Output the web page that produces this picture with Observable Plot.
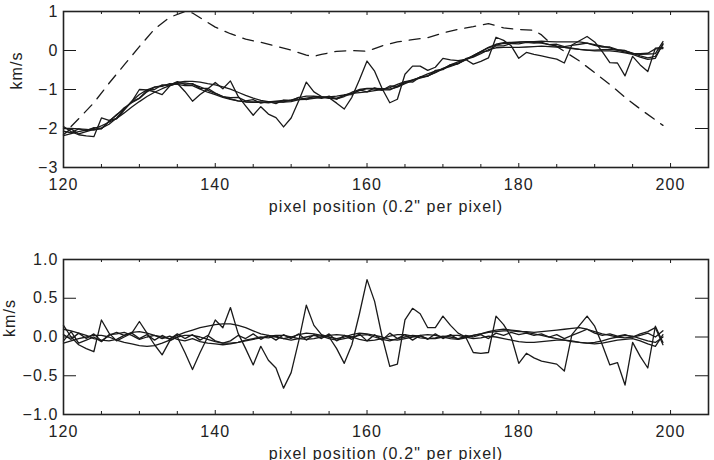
<!DOCTYPE html>
<html>
<head>
<meta charset="utf-8">
<script src="https://cdn.jsdelivr.net/npm/d3@7"></script>
<script src="https://cdn.jsdelivr.net/npm/@observablehq/plot@0.6"></script>
<style>
  body { margin: 0; background: #fff; }
  #chart svg { display: block; }
</style>
</head>
<body>
<div id="chart"></div>
<script>
// Slit pixel index along the x axis
const pixel = [
  120,121,122,123,124,125,126,127,128,129,130,131,132,133,134,135,136,137,138,139,
  140,141,142,143,144,145,146,147,148,149,150,151,152,153,154,155,156,157,158,159,
  160,161,162,163,164,165,166,167,168,169,170,171,172,173,174,175,176,177,178,179,
  180,181,182,183,184,185,186,187,188,189,190,191,192,193,194,195,196,197,198,199
];

// Smooth velocity model (km/s) shared by all profiles
const fit = [
  -2.10,-2.08,-2.06,-2.04,-2.02,-1.95,-1.84,-1.70,-1.53,-1.36,
  -1.20,-1.06,-0.96,-0.90,-0.86,-0.84,-0.85,-0.88,-0.93,-0.99,
  -1.04,-1.10,-1.16,-1.22,-1.27,-1.30,-1.32,-1.33,-1.32,-1.30,
  -1.27,-1.24,-1.22,-1.21,-1.21,-1.21,-1.20,-1.16,-1.10,-1.05,
  -1.01,-0.99,-0.98,-0.96,-0.90,-0.83,-0.77,-0.70,-0.63,-0.55,
  -0.47,-0.39,-0.31,-0.23,-0.15,-0.07, 0.01, 0.07, 0.10, 0.12,
   0.14, 0.16, 0.17, 0.17, 0.15, 0.13, 0.12, 0.11, 0.10, 0.09,
   0.08, 0.07, 0.05, 0.01,-0.03,-0.08,-0.12,-0.14,-0.08, 0.15
];

// Residuals (km/s) of each measured profile about the model
const resA = [
   0.15, 0.00,-0.10,-0.15,-0.19, 0.22, 0.05,-0.05, 0.00, 0.05,
   0.20, 0.05,-0.10,-0.23,-0.05, 0.00,-0.20,-0.42,-0.20, 0.00,
   0.22, 0.12, 0.38, 0.05,-0.15,-0.36,-0.12,-0.30,-0.40,-0.66,
  -0.46,-0.05, 0.41, 0.15, 0.03, 0.00,-0.15,-0.34,-0.10, 0.30,
   0.74, 0.46, 0.00,-0.38,-0.35, 0.22, 0.37, 0.30, 0.12, 0.12,
   0.27, 0.15, 0.05, 0.00,-0.20,-0.21,-0.20, 0.27, 0.16, 0.00,
  -0.34,-0.21,-0.27,-0.31,-0.33,-0.35,-0.44, 0.03, 0.15, 0.27,
   0.14,-0.10,-0.36,-0.33,-0.62,-0.07,-0.25,-0.40, 0.14,-0.07
];
const resB = [
   0.10, 0.08, 0.05, 0.02,-0.02,-0.04,-0.05,-0.03, 0.02, 0.06,
   0.07, 0.05, 0.02, 0.00,-0.02, 0.02, 0.06, 0.09, 0.12, 0.14,
   0.16, 0.17, 0.17, 0.15, 0.12, 0.08, 0.04, 0.02, 0.00,-0.02,
   0.00, 0.03, 0.05, 0.04, 0.02, 0.00,-0.02, 0.00, 0.03, 0.05,
   0.04, 0.02, 0.00,-0.03,-0.04,-0.02, 0.00, 0.02, 0.03, 0.02,
   0.00,-0.02,-0.03,-0.01, 0.02, 0.04, 0.06, 0.07, 0.08, 0.08,
   0.07, 0.07, 0.06, 0.07, 0.08, 0.09, 0.10, 0.11, 0.12, 0.10,
   0.07, 0.04, 0.02, 0.00,-0.01, 0.00, 0.02, 0.05, 0.00, 0.08
];
const resC = [
  -0.08,-0.05,-0.02, 0.00, 0.02, 0.02, 0.00,-0.04,-0.07,-0.09,
  -0.11,-0.12,-0.11,-0.08,-0.04, 0.00, 0.02, 0.02, 0.00,-0.03,
  -0.06,-0.08,-0.08,-0.07,-0.05,-0.03,-0.01, 0.01, 0.02, 0.02,
   0.00,-0.02,-0.03,-0.02, 0.00, 0.02, 0.03, 0.02, 0.00,-0.03,
  -0.05,-0.04,-0.02, 0.01, 0.03, 0.03, 0.01,-0.01,-0.02,-0.02,
   0.00, 0.02, 0.02, 0.00,-0.02,-0.01, 0.01, 0.00,-0.02,-0.04,
  -0.06,-0.07,-0.07,-0.06,-0.05,-0.04,-0.04,-0.05,-0.07,-0.08,
  -0.07,-0.05,-0.02, 0.00, 0.02, 0.01,-0.02,-0.05,-0.07, 0.00
];
const resD = [
   0.03,-0.03, 0.05,-0.02, 0.04,-0.05, 0.02, 0.06, 0.02, 0.05,
  -0.02, 0.03,-0.04, 0.02,-0.03, 0.04,-0.02, 0.03,-0.04, 0.02,
  -0.05,-0.08,-0.05, 0.02,-0.02, 0.04,-0.03, 0.02,-0.04, 0.03,
  -0.02, 0.04,-0.04, 0.03,-0.02, 0.04,-0.05, 0.02,-0.03, 0.04,
  -0.05, 0.03,-0.04, 0.05,-0.02, 0.03,-0.04, 0.02,-0.03, 0.04,
  -0.02, 0.03,-0.03, 0.02, 0.00, 0.03,-0.02, 0.05, 0.02, 0.06,
   0.03, 0.05, 0.02, 0.04, 0.00, 0.03,-0.02, 0.02, 0.06, 0.10,
   0.05, 0.02, 0.04, 0.01, 0.03, 0.00, 0.04, 0.07, 0.12,-0.10
];
const resE = [
  -0.05, 0.07,-0.08,-0.04, 0.00,-0.06, 0.03, 0.04, 0.06, 0.02,
  -0.03, 0.00, 0.02,-0.02, 0.01,-0.03,-0.05,-0.02,-0.06,-0.08,
  -0.09,-0.10,-0.09,-0.07,-0.04,-0.02, 0.00,-0.01, 0.01,-0.02,
  -0.04,-0.02, 0.00, 0.02, 0.01,-0.02,-0.04,-0.02, 0.00, 0.02,
   0.03, 0.00,-0.03,-0.05,-0.02, 0.00, 0.02, 0.01,-0.02,-0.01,
   0.01, 0.00,-0.02, 0.00, 0.02, 0.04, 0.07, 0.09, 0.10, 0.09,
   0.08, 0.06, 0.04, 0.02, 0.00,-0.02,-0.04,-0.06,-0.07,-0.08,
  -0.09,-0.08,-0.06,-0.04,-0.03,-0.02,-0.05,-0.09,-0.12, 0.03
];

// Reference (dashed) velocity curve
const refPixel = [121,122,124,126,128,130,132,134,136,137,138,140,142,144,146,148,150,152,153,154,
                  156,158,160,162,164,166,168,170,172,174,176,178,180,182,183,184,186,188,190,192,194,196,198,199];
const refVel   = [-1.95,-1.75,-1.34,-0.84,-0.37,0.10,0.55,0.85,1.00,0.96,0.84,0.60,0.43,0.29,0.21,0.11,0.01,-0.12,-0.15,-0.10,
                  -0.02,0.00,-0.02,0.12,0.22,0.28,0.33,0.45,0.54,0.61,0.69,0.58,0.54,0.52,0.40,0.22,-0.02,-0.27,-0.57,-0.87,-1.20,-1.50,-1.78,-1.92];

// Axis ticks and labels
const xMajor = [120, 140, 160, 180, 200];
const xMinor = [125, 130, 135, 145, 150, 155, 165, 170, 175, 185, 190, 195];
const topYTicks = [-3, -2, -1, 0, 1];
const botYTicks = [-1, -0.5, 0, 0.5, 1];
const xLabel = "pixel position (0.2\" per pixel)";
const yLabel = "km/s";

const residuals = [resA, resB, resC, resD, resE];
// each measured profile = model + its residual
const profileRows = residuals.flatMap((res, k) =>
  pixel.map((p, i) => ({p, v: fit[i] + res[i], k})));
const residualRows = residuals.flatMap((res, k) =>
  pixel.map((p, i) => ({p, v: res[i], k})));
const refRows = refPixel.map((p, i) => ({p, v: refVel[i]}));

const W = 714, ML = 63, MR = 6;
const frameW = W - ML - MR;
const ink = "#1a1a1a";
const textStyle = {
  fontFamily: "'Liberation Sans', Arial, sans-serif",
  fontSize: "16px",
  letterSpacing: "1.1px",
  color: "#222",
  background: "#fff"
};

function panel({height, marginTop, marginBottom, yDomain, yTicks, yFormat, lines, labelDx}) {
  const frameH = height - marginTop - marginBottom;
  return Plot.plot({
    width: W, height, marginLeft: ML, marginRight: MR, marginTop, marginBottom,
    style: textStyle,
    x: {domain: [120, 205]},
    y: {domain: yDomain},
    marks: [
      ...lines,
      // inward ticks on all four sides
      Plot.ruleX(xMajor, {x: d => d, insetTop: frameH - 4, stroke: ink}),
      Plot.ruleX(xMajor, {x: d => d, insetBottom: frameH - 4, stroke: ink}),
      Plot.ruleX(xMinor, {x: d => d, insetTop: frameH - 3, stroke: ink}),
      Plot.ruleX(xMinor, {x: d => d, insetBottom: frameH - 3, stroke: ink}),
      Plot.ruleY(yTicks, {y: d => d, insetRight: frameW - 13, stroke: ink}),
      Plot.ruleY(yTicks, {y: d => d, insetLeft: frameW - 13, stroke: ink}),
      Plot.frame({stroke: "#222", strokeWidth: 1.6}),
      Plot.axisX(xMajor, {tickSize: 0, tickPadding: 11, label: null, fill: "#222"}),
      Plot.axisY(yTicks, {tickSize: 0, tickPadding: 5, label: null, tickFormat: yFormat, fill: "#222"}),
      Plot.text([xLabel], {frameAnchor: "bottom", dy: 44, fill: "#222"}),
      Plot.text([yLabel], {frameAnchor: "left", rotate: -90, dx: labelDx, fill: "#222"})
    ]
  });
}

const upperPanel = panel({
  height: 230, marginTop: 11, marginBottom: 63,
  yDomain: [-3, 1], yTicks: topYTicks, yFormat: d3.format("d"), labelDx: -47,
  lines: [
    Plot.line(profileRows, {x: "p", y: "v", z: "k", stroke: ink, strokeWidth: 1.3}),
    Plot.line(refRows, {x: "p", y: "v", stroke: ink, strokeWidth: 1.3, strokeDasharray: "11,8"})
  ]
});

const lowerPanel = panel({
  height: 230, marginTop: 29, marginBottom: 46,
  yDomain: [-1, 1], yTicks: botYTicks, yFormat: d3.format(".1f"), labelDx: -54,
  lines: [
    Plot.line(residualRows, {x: "p", y: "v", z: "k", stroke: ink, strokeWidth: 1.3})
  ]
});

document.getElementById("chart").append(upperPanel, lowerPanel);
</script>
</body>
</html>
